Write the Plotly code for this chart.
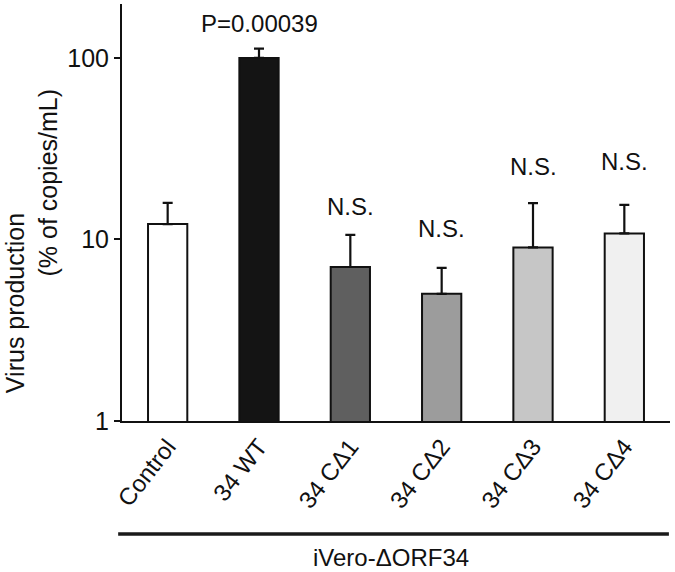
import plotly.graph_objects as go
import numpy as np

categories = ["Control", "34 WT", "34 CΔ1", "34 CΔ2", "34 CΔ3", "34 CΔ4"]
values = [12.15, 100.0, 7.05, 5.02, 9.04, 10.8]
err_plus = [3.75, 12.5, 3.55, 1.96, 6.8, 4.7]
colors = ["#ffffff", "#141414", "#5f5f5f", "#9c9c9c", "#c6c6c6", "#f0f0f0"]
sig_labels = ["", "P=0.00039", "N.S.", "N.S.", "N.S.", "N.S."]
sig_y = [None, 154, 15.1, 11.5, 25.1, 26.8]
y_ticks = [1, 10, 100]
group_label = "iVero-ΔORF34"

FONT = "Liberation Sans, Arial, sans-serif"

fig = go.Figure()
fig.add_trace(go.Bar(
    x=categories, y=values,
    marker=dict(color=colors, line=dict(color="#111111", width=2)),
    width=0.43,
    error_y=dict(type="data", symmetric=False, array=err_plus,
                 arrayminus=[0] * len(values), color="#111111",
                 thickness=2.2, width=5),
))

for c, lab, yv in zip(categories, sig_labels, sig_y):
    if lab:
        fig.add_annotation(x=c, y=np.log10(yv), text=lab, showarrow=False,
                           font=dict(size=24, color="#111111", family=FONT),
                           yanchor="middle")

fig.add_annotation(xref="paper", yref="paper", x=-0.195, y=0.283,
                   xanchor="center", yanchor="middle",
                   text="Virus production", textangle=-90, showarrow=False,
                   font=dict(size=25, color="#111111", family=FONT))
fig.add_annotation(xref="paper", yref="paper", x=-0.135, y=0.572,
                   xanchor="center", yanchor="middle",
                   text="(% of copies/mL)", textangle=-90, showarrow=False,
                   font=dict(size=25, color="#111111", family=FONT))

fig.add_shape(type="line", xref="paper", yref="paper",
              x0=-0.007, x1=0.998, y0=-0.271, y1=-0.271,
              line=dict(color="#1a1a1a", width=3.5))
fig.add_annotation(xref="paper", yref="paper", x=0.49, y=-0.3285,
                   text=group_label, showarrow=False, yanchor="middle",
                   font=dict(size=24, color="#111111", family=FONT))

fig.update_layout(
    width=675, height=572,
    margin=dict(l=122, r=5, t=4, b=151),
    plot_bgcolor="white", paper_bgcolor="white",
    showlegend=False,
    font=dict(family=FONT, size=24, color="#111111"),
    xaxis=dict(range=[-0.5, 5.5], showline=True, linecolor="#111111",
               linewidth=2, ticks="", tickangle=-52, automargin=False,
               tickfont=dict(size=24, family=FONT, color="#111111"),
               showgrid=False, zeroline=False),
    yaxis=dict(type="log", range=[0, 2.297], showline=True,
               linecolor="#111111", linewidth=2, ticks="outside",
               ticklen=6, tickwidth=2, tickcolor="#111111", automargin=False,
               tickvals=y_ticks, ticktext=[str(t) for t in y_ticks],
               tickfont=dict(size=25, family=FONT, color="#111111"),
               showgrid=False, zeroline=False),
)

fig.write_html("out.html",
               config={"displayModeBar": False},
               post_script="document.body.style.margin='0';"
                           "document.body.style.overflow='hidden';")
